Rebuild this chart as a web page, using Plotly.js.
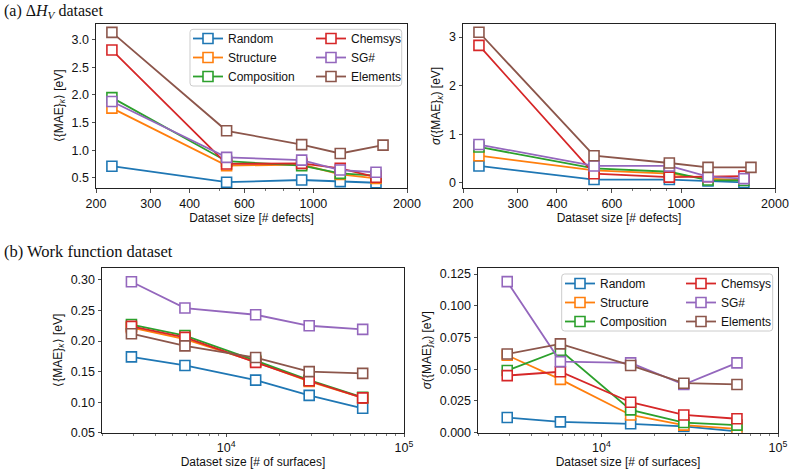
<!DOCTYPE html>
<html>
<head>
<meta charset="utf-8">
<script src="https://cdn.plot.ly/plotly-3.0.1.min.js"></script>
<style>html,body{margin:0;padding:0;background:#fff;}#chart{width:789px;height:473px;}</style>
</head>
<body>
<div id="chart"></div>
<script>
// ---- data ----
const seriesNames = ["Random", "Structure", "Composition", "Chemsys", "SG#", "Elements"];
const seriesColors = ["#1f77b4", "#ff7f0e", "#2ca02c", "#d62728", "#9467bd", "#8c564b"];

const sizesDefects = [225, 526, 917, 1220, 1590];
const sizesDefectsElements = [225, 526, 917, 1220, 1675];
const sizesSurfaces = [2928, 5856, 14640, 29280, 58560];

// (a) Delta H_V : mean MAE
const maeDH_Random      = [0.71, 0.42, 0.46, 0.43, 0.41];
const maeDH_Structure   = [1.76, 0.72, 0.74, 0.56, 0.49];
const maeDH_Composition = [1.95, 0.80, 0.72, 0.58, 0.54];
const maeDH_Chemsys     = [2.81, 0.75, 0.76, 0.67, 0.51];
const maeDH_SG          = [1.88, 0.87, 0.82, 0.64, 0.60];
const maeDH_Elements    = [3.13, 1.35, 1.10, 0.94, 1.09];

// (a) Delta H_V : std of MAE
const stdDH_Random      = [0.35, 0.07, 0.07, 0.04, 0.01];
const stdDH_Structure   = [0.56, 0.26, 0.19, 0.09, 0.06];
const stdDH_Composition = [0.74, 0.30, 0.23, 0.06, 0.05];
const stdDH_Chemsys     = [2.83, 0.19, 0.12, 0.13, 0.14];
const stdDH_SG          = [0.79, 0.35, 0.35, 0.13, 0.09];
const stdDH_Elements    = [3.10, 0.56, 0.41, 0.32, 0.32];

// (b) Work function : mean MAE
const maeWF_Random      = [0.174, 0.160, 0.136, 0.111, 0.090];
const maeWF_Structure   = [0.222, 0.203, 0.166, 0.134, 0.107];
const maeWF_Composition = [0.227, 0.209, 0.168, 0.136, 0.108];
const maeWF_Chemsys     = [0.224, 0.206, 0.165, 0.135, 0.107];
const maeWF_SG          = [0.297, 0.254, 0.243, 0.225, 0.219];
const maeWF_Elements    = [0.212, 0.192, 0.173, 0.150, 0.147];

// (b) Work function : std of MAE
const stdWF_Random      = [0.012, 0.0085, 0.007, 0.005, 0.001];
const stdWF_Structure   = [0.061, 0.042, 0.014, 0.006, 0.003];
const stdWF_Composition = [0.049, 0.065, 0.018, 0.008, 0.006];
const stdWF_Chemsys     = [0.045, 0.048, 0.024, 0.014, 0.011];
const stdWF_SG          = [0.119, 0.056, 0.055, 0.038, 0.055];
const stdWF_Elements    = [0.062, 0.070, 0.053, 0.039, 0.038];

const xTopTicks = [200, 300, 400, 600, 1000, 2000];
const xTopMinor = [500, 700, 800, 900];
const xBotTicks = [10000, 100000];
const xBotTickText = ["10<sup>4</sup>", "10<sup>5</sup>"];
const xBotMinor = [2000,3000,4000,5000,6000,7000,8000,9000,20000,30000,40000,50000,60000,70000,80000,90000];

// ---- build ----
const panels = [
  {xa: "x", ya: "y", xs: [sizesDefects,sizesDefects,sizesDefects,sizesDefects,sizesDefects,sizesDefectsElements],
   ys: [maeDH_Random, maeDH_Structure, maeDH_Composition, maeDH_Chemsys, maeDH_SG, maeDH_Elements], leg: ["legend","legend2"]},
  {xa: "x2", ya: "y2", xs: [sizesDefects,sizesDefects,sizesDefects,sizesDefects,sizesDefects,sizesDefectsElements],
   ys: [stdDH_Random, stdDH_Structure, stdDH_Composition, stdDH_Chemsys, stdDH_SG, stdDH_Elements], leg: null},
  {xa: "x3", ya: "y3", xs: Array(6).fill(sizesSurfaces),
   ys: [maeWF_Random, maeWF_Structure, maeWF_Composition, maeWF_Chemsys, maeWF_SG, maeWF_Elements], leg: null},
  {xa: "x4", ya: "y4", xs: Array(6).fill(sizesSurfaces),
   ys: [stdWF_Random, stdWF_Structure, stdWF_Composition, stdWF_Chemsys, stdWF_SG, stdWF_Elements], leg: ["legend3","legend4"]}
];

const traces = [];
panels.forEach(p => {
  seriesNames.forEach((name, i) => {
    const t = {
      type: "scatter", mode: "lines+markers", name: name,
      x: p.xs[i], y: p.ys[i], xaxis: p.xa, yaxis: p.ya,
      line: {color: seriesColors[i], width: 1.8},
      marker: {symbol: "square", size: 10, color: "white", line: {color: seriesColors[i], width: 1.6}},
      showlegend: !!p.leg, hoverinfo: "skip"
    };
    if (p.leg) t.legend = i < 3 ? p.leg[0] : p.leg[1];
    traces.push(t);
  });
});

const W = 789, H = 473;
const px = v => v / W, py = v => 1 - v / H;
const FONT = "Liberation Sans, Arial, sans-serif";
const tickFont = {family: FONT, size: 12.5, color: "#111"};
const titleFont = {family: FONT, size: 12, color: "#111"};

function xaxisBase(dom, anchor, isTop) {
  const a = {
    domain: dom, anchor: anchor, type: "log",
    showline: true, mirror: true, linecolor: "#222", linewidth: 1,
    ticks: "outside", ticklen: 3.5, tickwidth: 0.8, tickcolor: "#222",
    showgrid: false, zeroline: false, tickfont: tickFont,
    tickmode: "array"
  };
  if (isTop) {
    a.range = [Math.log10(200), Math.log10(2000)];
    a.tickvals = xTopTicks; a.ticktext = xTopTicks.map(String);
    a.minor = {tickmode: "array", tickvals: xTopMinor, ticks: "outside", ticklen: 2, tickwidth: 0.6, tickcolor: "#222", showgrid: false};
    a.title = {text: "Dataset size [# defects]", font: titleFont, standoff: 3};
  } else {
    a.range = [Math.log10(2000), 5];
    a.tickvals = xBotTicks; a.ticktext = xBotTickText;
    a.minor = {tickmode: "array", tickvals: xBotMinor, ticks: "outside", ticklen: 2, tickwidth: 0.6, tickcolor: "#222", showgrid: false};
    a.title = {text: "Dataset size [# of surfaces]", font: titleFont, standoff: 3};
  }
  return a;
}
function yaxisBase(dom, anchor, range, vals, fmt, title) {
  return {
    domain: dom, anchor: anchor, range: range,
    showline: true, mirror: true, linecolor: "#222", linewidth: 1,
    ticks: "outside", ticklen: 3.5, tickwidth: 0.8, tickcolor: "#222",
    showgrid: false, zeroline: false, tickfont: tickFont,
    tickmode: "array", tickvals: vals, ticktext: vals.map(v => fmt(v)),
    title: {text: title, font: titleFont, standoff: 5}
  };
}

const yTop = [py(188.3), py(23.5)];
const yBot = [py(432.7), py(267.7)];

const legendCommon = {
  xref: "paper", yref: "paper", xanchor: "left", yanchor: "top",
  bgcolor: "rgba(0,0,0,0)", borderwidth: 0, orientation: "v",
  font: {family: FONT, size: 12, color: "#111"}, itemwidth: 30, tracegroupgap: 0
};

function roundRect(x0, y0, x1, y1, r) {
  const X = v => px(v).toFixed(5), Y = v => py(v).toFixed(5);
  return `M${X(x0+r)},${Y(y0)} L${X(x1-r)},${Y(y0)} Q${X(x1)},${Y(y0)} ${X(x1)},${Y(y0+r)} ` +
         `L${X(x1)},${Y(y1-r)} Q${X(x1)},${Y(y1)} ${X(x1-r)},${Y(y1)} L${X(x0+r)},${Y(y1)} ` +
         `Q${X(x0)},${Y(y1)} ${X(x0)},${Y(y1-r)} L${X(x0)},${Y(y0+r)} Q${X(x0)},${Y(y0)} ${X(x0+r)},${Y(y0)} Z`;
}

const layout = {
  width: W, height: H, margin: {l: 0, r: 0, t: 0, b: 0},
  paper_bgcolor: "white", plot_bgcolor: "white",
  font: {family: FONT, size: 12, color: "#111"},
  xaxis: xaxisBase([px(96), px(407)], "y", true),
  xaxis2: xaxisBase([px(463), px(775)], "y2", true),
  xaxis3: xaxisBase([px(102), px(404)], "y3", false),
  xaxis4: xaxisBase([px(478), px(778)], "y4", false),
  yaxis: yaxisBase(yTop, "x", [0.31, 3.29], [0.5,1.0,1.5,2.0,2.5,3.0], v => v.toFixed(1), "⟨{MAE}<sub><i>κ</i></sub>⟩ [eV]"),
  yaxis2: yaxisBase(yTop, "x2", [-0.11, 3.28], [0,1,2,3], v => v.toFixed(0), "<i>σ</i>({MAE}<sub><i>κ</i></sub>) [eV]"),
  yaxis3: yaxisBase(yBot, "x3", [0.05, 0.32], [0.05,0.10,0.15,0.20,0.25,0.30], v => v.toFixed(2), "⟨{MAE}<sub><i>κ</i></sub>⟩ [eV]"),
  yaxis4: yaxisBase(yBot, "x4", [0, 0.130], [0,0.025,0.05,0.075,0.1,0.125], v => v.toFixed(3), "<i>σ</i>({MAE}<sub><i>κ</i></sub>) [eV]"),
  legend:  Object.assign({}, legendCommon, {x: px(188), y: py(24)}),
  legend2: Object.assign({}, legendCommon, {x: px(311), y: py(24)}),
  legend3: Object.assign({}, legendCommon, {x: px(560), y: py(269)}),
  legend4: Object.assign({}, legendCommon, {x: px(681), y: py(269)}),
  shapes: [
    {type: "path", xref: "paper", yref: "paper", layer: "above", path: roundRect(190, 29.3, 401.7, 86, 3),
     fillcolor: "rgba(255,255,255,0.8)", line: {color: "#cccccc", width: 1}},
    {type: "path", xref: "paper", yref: "paper", layer: "above", path: roundRect(561.7, 274, 772.7, 331, 3),
     fillcolor: "rgba(255,255,255,0.8)", line: {color: "#cccccc", width: 1}}
  ],
  annotations: [
    {xref: "paper", yref: "paper", x: 0.002, y: py(11), xanchor: "left", yanchor: "middle", showarrow: false,
     text: "(a) Δ<i>H</i><sub><i>V</i></sub> dataset", font: {family: "Liberation Serif, Times New Roman, serif", size: 16, color: "#111"}},
    {xref: "paper", yref: "paper", x: 0.002, y: py(251), xanchor: "left", yanchor: "middle", showarrow: false,
     text: "(b) Work function dataset", font: {family: "Liberation Serif, Times New Roman, serif", size: 16.5, color: "#111"}}
  ]
};

Plotly.newPlot("chart", traces, layout, {displayModeBar: false, staticPlot: true});
</script>
</body>
</html>
